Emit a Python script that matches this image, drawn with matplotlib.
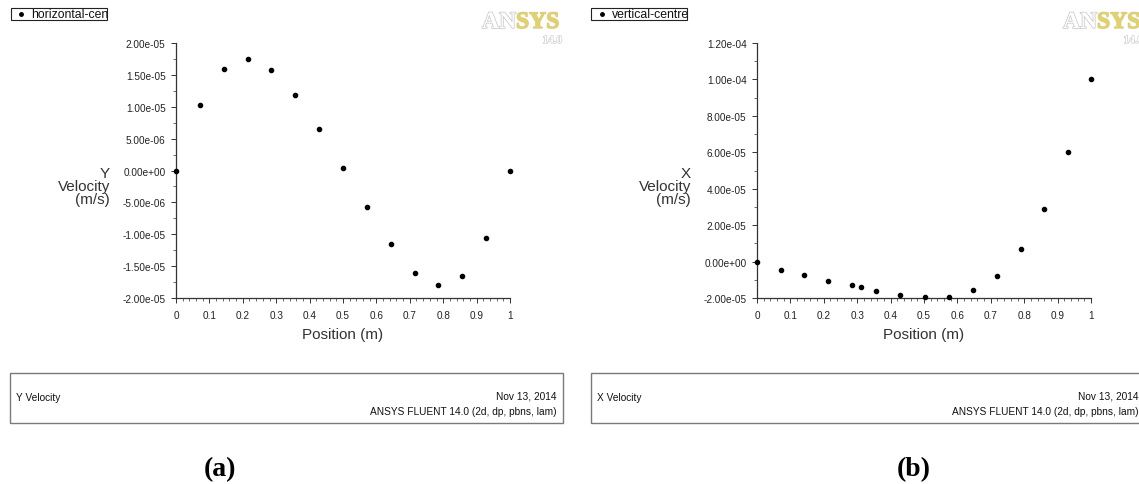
import matplotlib
matplotlib.use("Agg")
import matplotlib.pyplot as plt
import matplotlib.patheffects as pe
from matplotlib.patches import Rectangle
from matplotlib.lines import Line2D
from matplotlib.ticker import AutoMinorLocator, FixedLocator, FuncFormatter
from matplotlib.transforms import Bbox, TransformedBbox

plt.rcParams["font.family"] = ["Liberation Sans", "DejaVu Sans"]

W, H = 1139, 485

# ----- data: velocity profiles along the cavity centrelines -----
pos_h = [0.0, 0.0714, 0.1429, 0.2143, 0.2857, 0.3571, 0.4286, 0.5,
         0.5714, 0.6429, 0.7143, 0.7857, 0.8571, 0.9286, 1.0]
vel_y = [0.0, 1.03e-05, 1.59e-05, 1.75e-05, 1.58e-05, 1.19e-05, 6.5e-06, 4.0e-07,
         -5.8e-06, -1.15e-05, -1.60e-05, -1.80e-05, -1.65e-05, -1.06e-05, 0.0]

pos_v = [0.0, 0.0709, 0.1420, 0.2140, 0.2850, 0.3100, 0.3560, 0.4290,
         0.5020, 0.5740, 0.6460, 0.7180, 0.7900, 0.8590, 0.9310, 1.0]
vel_x = [0.0, -4.4e-06, -7.5e-06, -1.07e-05, -1.31e-05, -1.42e-05, -1.62e-05, -1.84e-05,
         -1.95e-05, -1.93e-05, -1.58e-05, -7.8e-06, 6.7e-06, 2.91e-05, 6.04e-05, 1.005e-04]

x_ticks = [0, 0.1, 0.2, 0.3, 0.4, 0.5, 0.6, 0.7, 0.8, 0.9, 1]
y_ticks_a = [-2e-05, -1.5e-05, -1e-05, -5e-06, 0, 5e-06, 1e-05, 1.5e-05, 2e-05]
y_ticks_b = [-2e-05, 0, 2e-05, 4e-05, 6e-05, 8e-05, 1e-04, 1.2e-04]

panels = [
    dict(x=pos_h, y=vel_y, yticks=y_ticks_a, ylabel="Y\nVelocity\n(m/s)",
         legend="horizontal-centre", footer="Y Velocity", caption="(a)", dx=0, cap_x=220),
    dict(x=pos_v, y=vel_x, yticks=y_ticks_b, ylabel="X\nVelocity\n(m/s)",
         legend="vertical-centreline", footer="X Velocity", caption="(b)", dx=581, cap_x=914),
]


def fx(px):
    return px / W


def fy(py):
    return 1 - py / H


fig = plt.figure(figsize=(W / 100, H / 100), dpi=100)
grey = "#7a7a7a"

for p in panels:
    dx = p["dx"]
    ax = fig.add_axes([fx(176 + dx), fy(299), fx(334), 255 / H])
    ax.plot(p["x"], p["y"], "o", color="black", ms=3.0, clip_on=False, zorder=5)
    ax.set_xlim(0, 1)
    ax.set_ylim(p["yticks"][0], p["yticks"][-1])
    ax.xaxis.set_major_locator(FixedLocator(x_ticks))
    ax.yaxis.set_major_locator(FixedLocator(p["yticks"]))
    ax.xaxis.set_minor_locator(AutoMinorLocator(5))
    ax.yaxis.set_minor_locator(AutoMinorLocator(2))
    ax.xaxis.set_major_formatter(FuncFormatter(lambda v, _: "%g" % v))
    ax.yaxis.set_major_formatter(FuncFormatter(lambda v, _: "%.2e" % v))
    for s in ["top", "right"]:
        ax.spines[s].set_visible(False)
    for s in ["left", "bottom"]:
        ax.spines[s].set_color("#333333")
        ax.spines[s].set_linewidth(0.9)
    ax.tick_params(which="major", length=3.5, width=0.7, color="#333333",
                   labelsize=7.2, labelcolor="#222222")
    ax.tick_params(which="minor", length=2, width=0.6, color="#555555")
    ax.tick_params(axis="y", pad=4)
    ax.tick_params(axis="x", pad=5)
    ax.set_xlabel("Position (m)", fontsize=11, color="#333333", labelpad=5)
    fig.text(fx(110 + dx), fy(187), p["ylabel"], ha="right", va="center",
             fontsize=11, color="#333333", linespacing=0.88, multialignment="right")

    # legend box in the top-left corner, label clipped by the box
    lx0 = 11 + dx - (1 if dx else 0)
    fig.add_artist(Rectangle((fx(lx0), fy(21)), fx(96), 12 / H,
                             transform=fig.transFigure, fill=False,
                             edgecolor="#222222", lw=0.8))
    fig.add_artist(Line2D([fx(21 + dx)], [fy(15)], marker="o", ms=2.5, color="black",
                          transform=fig.transFigure))
    t = fig.text(fx(31 + dx), fy(15), p["legend"], ha="left", va="center",
                 fontsize=8.8, color="#111111")
    t.set_clip_box(TransformedBbox(Bbox.from_extents(fx(lx0), fy(21), fx(lx0 + 96), fy(9)),
                                   fig.transFigure))
    t.set_clip_on(True)

    # ANSYS logo
    fig.text(fx(516 + dx), fy(29), "AN", ha="right", va="baseline", fontsize=17,
             family="Liberation Serif", weight="bold", color="white",
             path_effects=[pe.withStroke(linewidth=1.0, foreground="#c4c4c4")])
    fig.text(fx(516 + dx), fy(29), "SYS", ha="left", va="baseline", fontsize=17,
             family="Liberation Serif", weight="bold", color="#e3d26a",
             path_effects=[pe.withStroke(linewidth=1.0, foreground="#d8cc88")])
    fig.text(fx(562 + dx), fy(44), "14.0", ha="right", va="baseline", fontsize=8,
             family="Liberation Serif", weight="bold", color="white",
             path_effects=[pe.withStroke(linewidth=0.8, foreground="#c8c8c8")])

    # footer information box
    fig.add_artist(Rectangle((fx(10 + dx), fy(424)), fx(553), 50 / H,
                             transform=fig.transFigure, fill=False,
                             edgecolor=grey, lw=1.0))
    fig.text(fx(16 + dx), fy(398), p["footer"], ha="left", va="center",
             fontsize=7.3, color="#111111")
    fig.text(fx(557 + dx), fy(397), "Nov 13, 2014", ha="right", va="center",
             fontsize=7.3, color="#111111")
    fig.text(fx(557 + dx), fy(412), "ANSYS FLUENT 14.0 (2d, dp, pbns, lam)",
             ha="right", va="center", fontsize=7.3, color="#111111")

    fig.text(fx(p["cap_x"]), fy(470), p["caption"], ha="center",
             va="center", fontsize=20, family="Liberation Serif", weight="bold")

fig.savefig("out.png", dpi=100)
